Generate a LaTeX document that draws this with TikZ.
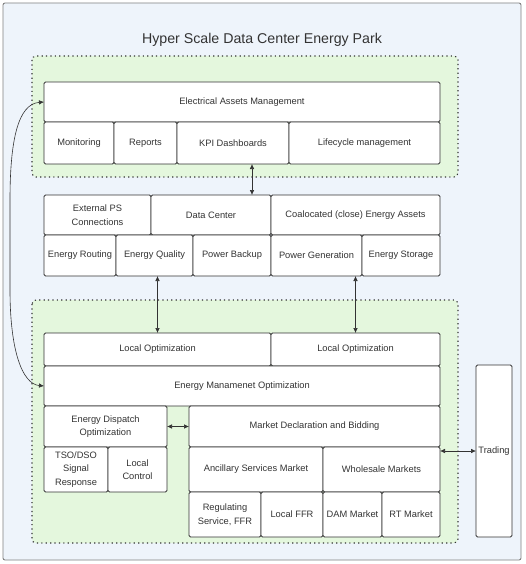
\documentclass[tikz,border=0pt]{standalone}
\usepackage{fontspec}
\setmainfont{Liberation Sans}
\usetikzlibrary{arrows.meta}
\definecolor{parkbg}{HTML}{EEF4FB}
\definecolor{zonebg}{HTML}{E4F7DD}
\definecolor{ink}{HTML}{333333}
\tikzstyle{cell} = [draw=ink, line width=0.8pt, fill=white, rounded corners=1.5pt, inner sep=0pt, outer sep=0pt, align=center, font=\fontsize{9.3}{13.5}\selectfont, text=ink]
\tikzstyle{zone} = [draw=ink, line width=1.1pt, dash pattern=on 1.2pt off 3.2pt, fill=zonebg, rounded corners=4pt]
\tikzstyle{park} = [draw=gray, line width=0.9pt, fill=parkbg, rounded corners=2pt]
\tikzstyle{bi} = [style={{Latex[length=5pt,width=4.5pt]}-{Latex[length=5pt,width=4.5pt]},draw=ink,style=semithick}]

\begin{document}
\begin{tikzpicture}[x=1pt,y=-1pt]
        \useasboundingbox (0,0) rectangle (526,564);
        \draw[park] (3,3) rectangle (521,560);
        \node[text=ink, font=\fontsize{14.2}{17}\selectfont] (title) at (262,40) {Hyper Scale Data Center Energy Park};
        \draw[zone] (32,56) rectangle (458,177);
        \draw[zone] (32,300) rectangle (458,543);
        % electrical assets
        \node[cell, minimum width=396, minimum height=40] (eam) at (242,102) {Electrical Assets Management};
        \node[cell, minimum width=70, minimum height=42] (mon) at (79,143) {Monitoring};
        \node[cell, minimum width=63, minimum height=42] (rep) at (145.5,143) {Reports};
        \node[cell, minimum width=112, minimum height=42] (kpi) at (233,143) {KPI Dashboards};
        \node[cell, minimum width=151, minimum height=42] (life) at (364.5,143) {Lifecycle management};
        % data center
        \node[cell, minimum width=107, minimum height=40] (ext) at (97.5,215) {External PS\\Connections};
        \node[cell, minimum width=120, minimum height=40] (dc) at (211,215) {Data Center};
        \node[cell, minimum width=169, minimum height=40] (coal) at (355.5,215) {Coalocated (close) Energy Assets};
        \node[cell, minimum width=72, minimum height=41] (route) at (80,255.5) {Energy Routing};
        \node[cell, minimum width=77, minimum height=41] (qual) at (154.5,255.5) {Energy Quality};
        \node[cell, minimum width=78, minimum height=41] (backup) at (232,255.5) {Power Backup};
        \node[cell, minimum width=91, minimum height=41] (gen) at (316.5,255.5) {Power Generation};
        \node[cell, minimum width=78, minimum height=41] (stor) at (401,255.5) {Energy Storage};
        % optimization
        \node[cell, minimum width=227, minimum height=33] (lo1) at (157.5,349.5) {Local Optimization};
        \node[cell, minimum width=169, minimum height=33] (lo2) at (355.5,349.5) {Local Optimization};
        \node[cell, minimum width=396, minimum height=40] (emo) at (242,386) {Energy Manamenet Optimization};
        \node[cell, minimum width=123, minimum height=41] (edo) at (105.5,426.5) {Energy Dispatch\\Optimization};
        \node[cell, minimum width=64, minimum height=45] (tso) at (76,469.5) {TSO/DSO\\Signal\\Response};
        \node[cell, minimum width=59, minimum height=45] (lc) at (137.5,469.5) {Local\\Control};
        \node[cell, minimum width=251, minimum height=41] (mdb) at (314.5,426.5) {Market Declaration and Bidding};
        \node[cell, minimum width=134, minimum height=45] (asm) at (256,469.5) {Ancillary Services Market};
        \node[cell, minimum width=117, minimum height=45] (wm) at (381.5,469.5) {Wholesale Markets};
        \node[cell, minimum width=72, minimum height=45] (reg) at (225,514.5) {Regulating\\Service, FFR};
        \node[cell, minimum width=62, minimum height=45] (ffr) at (292,514.5) {Local FFR};
        \node[cell, minimum width=59, minimum height=45] (dam) at (352.5,514.5) {DAM Market};
        \node[cell, minimum width=58, minimum height=45] (rt) at (411,514.5) {RT Market};
        \node[cell, minimum width=36, minimum height=172] (trade) at (494,451) {Trading};
        % links
        \draw[bi] ([xshift=19pt]kpi.south) -- ([xshift=19pt]kpi.south |- dc.north);
        \draw[bi] (lo1.north) -- (lo1.north |- qual.south);
        \draw[bi] (lo2.north) -- (lo2.north |- gen.south);
        \draw[bi] (edo.east) -- (mdb.west);
        \draw[bi] (trade.west -| wm.east) -- (trade.west);
        \draw[bi] (eam.west) .. controls (18,104) and (10,140) .. (10,200) -- (10,290) .. controls (10,350) and (22,384) .. (emo.west);
      \end{tikzpicture}
\end{document}
